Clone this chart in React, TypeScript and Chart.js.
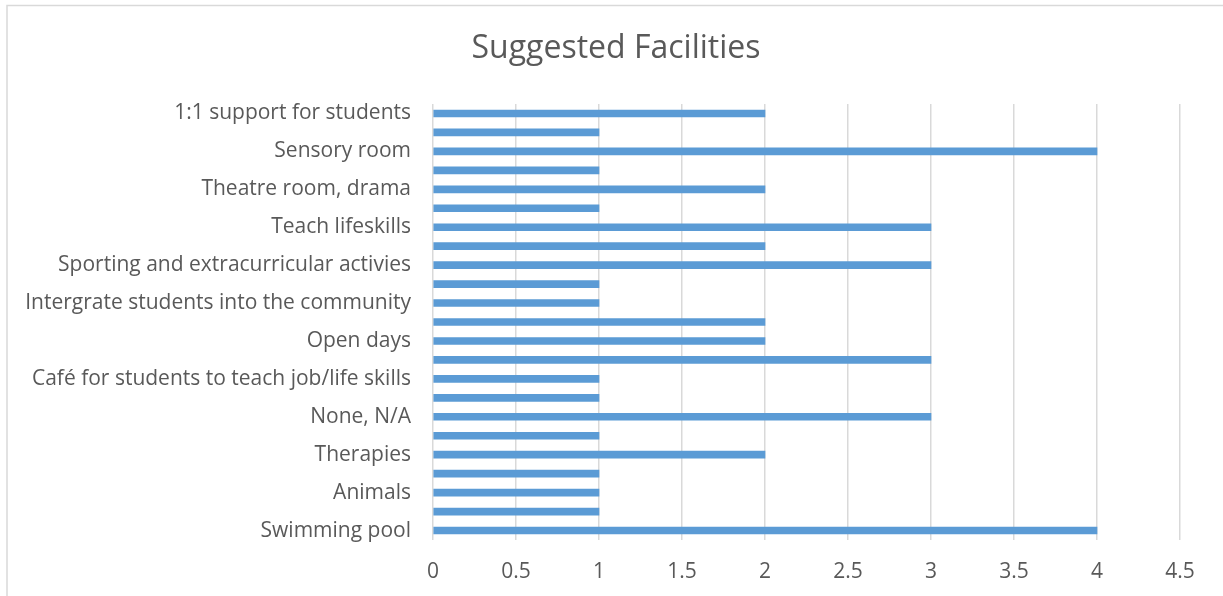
import React, { useEffect, useRef } from "react";
import { Chart, registerables } from "chart.js";

Chart.register(...registerables);

const title = "Suggested Facilities";

// Top-to-bottom order as shown; labels hidden in the reference are left blank
const categories: string[] = [
  "1:1 support for students",
  "",
  "Sensory room",
  "",
  "Theatre room, drama",
  "",
  "Teach lifeskills",
  "",
  "Sporting and extracurricular activies",
  "",
  "Intergrate students into the community",
  "",
  "Open days",
  "",
  "Café for students to teach job/life skills",
  "",
  "None, N/A",
  "",
  "Therapies",
  "",
  "Animals",
  "",
  "Swimming pool",
];

const values: number[] = [2, 1, 4, 1, 2, 1, 3, 2, 3, 1, 1, 2, 2, 3, 1, 1, 3, 1, 2, 1, 1, 1, 4];

const xMin = 0;
const xMax = 4.5;
const xStep = 0.5;

const FONT = "'Open Sans', sans-serif";
const TEXT = "#595959";
const GRID = "#D9D9D9";

const framePlugin = {
  id: "frame",
  beforeDraw(chart: any) {
    const ctx = chart.ctx;
    ctx.save();
    ctx.fillStyle = "#ffffff";
    ctx.fillRect(0, 0, chart.width, chart.height);
    ctx.strokeStyle = GRID;
    ctx.lineWidth = 1.5;
    ctx.strokeRect(7, 5.5, chart.width + 20, chart.height + 20);
    ctx.restore();
  },
  afterDraw(chart: any) {
    const ctx = chart.ctx;
    ctx.save();
    ctx.fillStyle = TEXT;
    ctx.font = `normal 32px ${FONT}`;
    ctx.textAlign = "center";
    ctx.textBaseline = "middle";
    ctx.fillText(title, 616, 49);
    ctx.restore();
  },
};

export default function App() {
  const ref = useRef<HTMLCanvasElement | null>(null);

  useEffect(() => {
    if (!ref.current) return;
    const chart = new Chart(ref.current, {
      type: "bar",
      data: {
        labels: categories,
        datasets: [
          {
            data: values,
            backgroundColor: "#5B9BD5",
            borderWidth: 0,
            barThickness: 7,
          },
        ],
      },
      plugins: [framePlugin],
      options: {
        indexAxis: "y",
        animation: false,
        responsive: false,
        maintainAspectRatio: false,
        layout: { padding: { left: 0, right: 43, top: 104, bottom: 0 } },
        plugins: {
          legend: { display: false },
          tooltip: { enabled: false },
          title: { display: false },
        },
        scales: {
          x: {
            type: "linear",
            min: xMin,
            max: xMax,
            ticks: {
              stepSize: xStep,
              color: TEXT,
              font: { family: FONT, size: 21 },
              padding: 19,
              callback: (v: any) => String(Number(v)),
            },
            grid: { color: GRID, lineWidth: 1.5, drawTicks: false },
            border: { display: false },
            afterFit(scale: any) {
              scale.height = 56;
            },
          },
          y: {
            type: "category",
            ticks: {
              autoSkip: false,
              color: TEXT,
              font: { family: FONT, size: 21 },
              padding: 22,
            },
            grid: { display: false, drawTicks: false },
            border: { display: false },
            afterFit(scale: any) {
              scale.width = 433;
            },
          },
        },
      },
    } as any);
    return () => chart.destroy();
  }, []);

  return (
    <div style={{ position: "fixed", left: 0, top: 0, width: 1223, height: 596 }}>
      <canvas ref={ref} width={1223} height={596} style={{ display: "block" }} />
    </div>
  );
}
